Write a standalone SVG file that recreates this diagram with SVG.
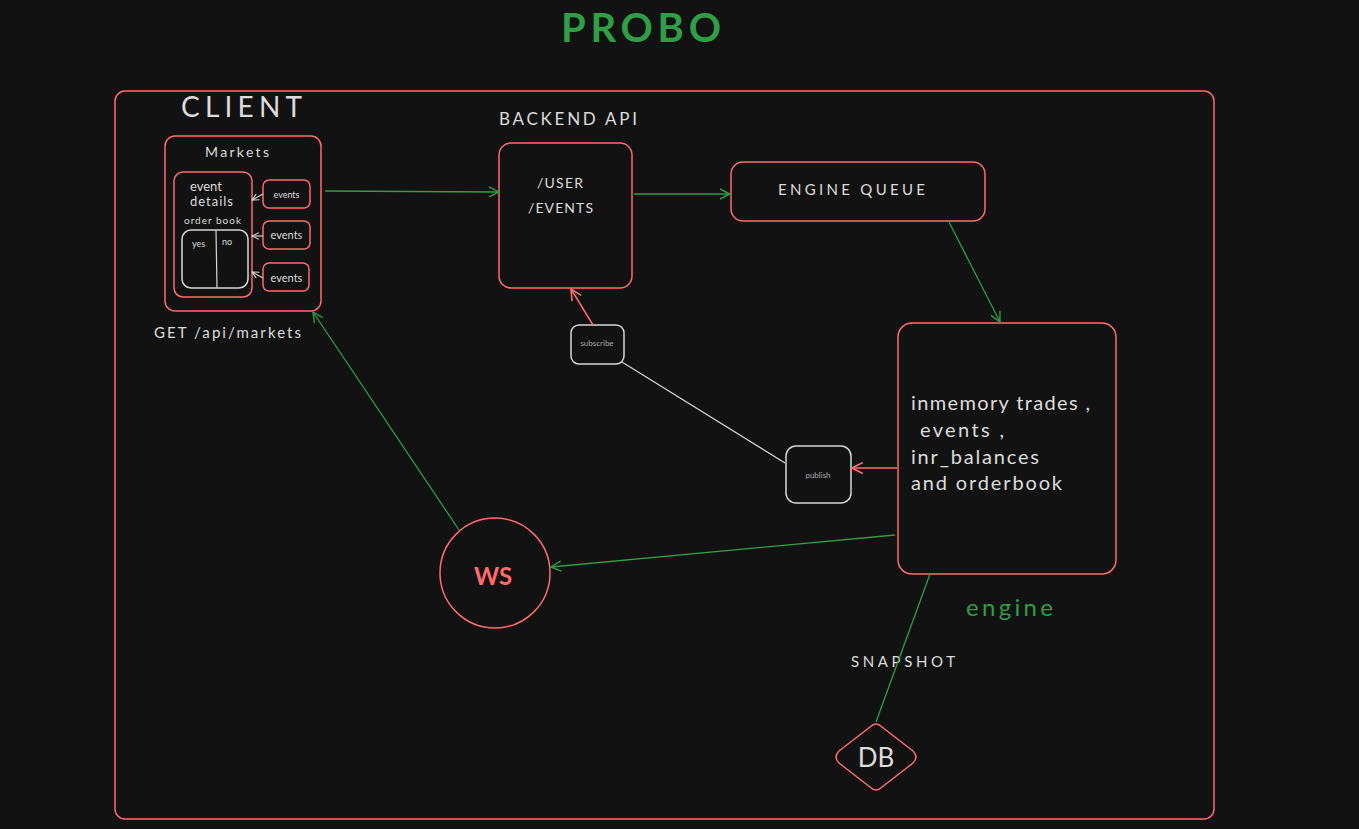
<svg xmlns="http://www.w3.org/2000/svg" width="1359" height="829" viewBox="0 0 1359 829">
<defs>
<style>
.bg{fill:#121212}
.box{fill:none;stroke:#ff6b6b;stroke-width:1.5}
.wbox{fill:none;stroke:#d6d6d6;stroke-width:1.5}
.t{font-family:Lato,"Liberation Sans",sans-serif;fill:#dcdcdc}
.g{stroke:#2f9e44;stroke-width:1.3;fill:none}
.r{stroke:#ff6b6b;stroke-width:1.5;fill:none}
.w{stroke:#d6d6d6;stroke-width:1.2;fill:none}
</style>
<marker id="ag" viewBox="0 0 12 12" refX="11" refY="6" markerWidth="12" markerHeight="12" markerUnits="userSpaceOnUse" orient="auto"><path d="M1,1 L11,6 L1,11" fill="none" stroke="#2f9e44" stroke-width="1.4"/></marker>
<marker id="ar" viewBox="0 0 12 12" refX="11" refY="6" markerWidth="13" markerHeight="13" markerUnits="userSpaceOnUse" orient="auto"><path d="M1,1 L11,6 L1,11" fill="none" stroke="#ff6b6b" stroke-width="1.5"/></marker>
<marker id="aw" viewBox="0 0 12 12" refX="11" refY="6" markerWidth="8" markerHeight="8" markerUnits="userSpaceOnUse" orient="auto"><path d="M1,1 L11,6 L1,11" fill="none" stroke="#d6d6d6" stroke-width="1.6"/></marker>
</defs>
<rect class="bg" x="0" y="0" width="1359" height="829"/>
<text class="t" x="561" y="42" font-size="40" font-weight="bold" style="fill:#2f9e44" textLength="160" lengthAdjust="spacing">PROBO</text>

<g id="frame"><rect class="box" x="115" y="91" width="1099" height="728" rx="10"/></g>

<g id="client">
<text class="t" x="181" y="117" font-size="28" textLength="121" lengthAdjust="spacing">CLIENT</text>
<rect class="box" x="165" y="136" width="156" height="175" rx="10"/>
<text class="t" x="205" y="157" font-size="14" textLength="64" lengthAdjust="spacing">Markets</text>
<rect class="box" x="174" y="172" width="78" height="125" rx="9"/>
<text class="t" x="190" y="191" font-size="13">event</text>
<text class="t" x="190" y="206" font-size="13" textLength="43" lengthAdjust="spacing">details</text>
<text class="t" x="184" y="224" font-size="10" textLength="57" lengthAdjust="spacing">order book</text>
<rect class="wbox" x="182" y="230" width="66" height="58" rx="9"/>
<line class="w" x1="216" y1="230" x2="217" y2="288"/>
<text class="t" x="192" y="247" font-size="9">yes</text>
<text class="t" x="222" y="245" font-size="9">no</text>
</g>
<g id="events1"><rect class="box" x="263" y="180" width="47" height="28" rx="6"/><text class="t" x="286.5" y="198" text-anchor="middle" font-size="9">events</text></g>
<g id="events2"><rect class="box" x="263" y="221" width="47" height="28" rx="6"/><text class="t" x="286.5" y="239" text-anchor="middle" font-size="11">events</text></g>
<g id="events3"><rect class="box" x="263" y="263" width="46" height="28" rx="6"/><text class="t" x="286.5" y="282" text-anchor="middle" font-size="11">events</text></g>
<text class="t" x="154" y="338" font-size="15" textLength="147" lengthAdjust="spacing">GET /api/markets</text>

<g id="backend">
<text class="t" x="499" y="125" font-size="17" textLength="138" lengthAdjust="spacing">BACKEND API</text>
<rect class="box" x="499" y="143" width="133" height="145" rx="12"/>
<text class="t" x="537" y="188" font-size="14" textLength="46" lengthAdjust="spacing">/USER</text>
<text class="t" x="528" y="213" font-size="14" textLength="65" lengthAdjust="spacing">/EVENTS</text>
</g>
<g id="queue"><rect class="box" x="731" y="162" width="254" height="59" rx="12"/><text class="t" x="778" y="195" font-size="15" textLength="147" lengthAdjust="spacing">ENGINE QUEUE</text></g>
<g id="engine">
<rect class="box" x="898" y="323" width="218" height="251" rx="14"/>
<text class="t" x="911" y="410" font-size="20" textLength="179" lengthAdjust="spacing">inmemory trades ,</text>
<text class="t" x="920" y="437" font-size="20" textLength="84" lengthAdjust="spacing">events ,</text>
<text class="t" x="911" y="464" font-size="20" textLength="128" lengthAdjust="spacing">inr_balances</text>
<text class="t" x="911" y="490" font-size="20" textLength="151" lengthAdjust="spacing">and orderbook</text>
<text class="t" x="966" y="616" font-size="24" style="fill:#2f9e44" textLength="87" lengthAdjust="spacing">engine</text>
</g>
<g id="publish"><rect class="wbox" x="786" y="446" width="65" height="57" rx="10"/><text class="t" x="818" y="478" text-anchor="middle" font-size="8" style="fill:#aaa">publish</text></g>
<g id="subscribe"><rect class="wbox" x="571" y="325" width="53" height="39" rx="8"/><text class="t" x="597" y="346" text-anchor="middle" font-size="8" style="fill:#aaa">subscribe</text></g>
<g id="ws"><circle class="box" cx="495" cy="573" r="55"/><text class="t" x="493" y="585" text-anchor="middle" font-size="24" font-weight="bold" style="fill:#ff6b6b">WS</text></g>
<g id="db">
<path class="box" d="M870,727 Q876,721 882,727 L913,751 Q919,757 913,763 L882,787 Q876,793 870,787 L839,763 Q833,757 839,751 Z"/>
<text class="t" x="876" y="767" text-anchor="middle" font-size="26">DB</text>
</g>
<text class="t" x="851" y="667" font-size="15" textLength="104" lengthAdjust="spacing">SNAPSHOT</text>

<g id="connectors">
<line class="w" x1="263" y1="194" x2="252" y2="200" marker-end="url(#aw)"/>
<line class="w" x1="263" y1="236" x2="252" y2="236" marker-end="url(#aw)"/>
<line class="w" x1="263" y1="278" x2="252" y2="272" marker-end="url(#aw)"/>
<line class="g" x1="325" y1="191" x2="499" y2="192" marker-end="url(#ag)"/>
<line class="g" x1="634" y1="194" x2="730" y2="194" marker-end="url(#ag)"/>
<line class="g" x1="949" y1="222" x2="1000" y2="322" marker-end="url(#ag)"/>
<line class="r" x1="897" y1="468" x2="852" y2="468" marker-end="url(#ar)"/>
<line class="w" x1="785" y1="463" x2="622" y2="362"/>
<line class="r" x1="593" y1="325" x2="571" y2="289" marker-end="url(#ar)"/>
<line class="g" x1="895" y1="535" x2="551" y2="567" marker-end="url(#ag)"/>
<line class="g" x1="459" y1="530" x2="313" y2="312" marker-end="url(#ag)"/>
<line class="g" x1="930" y1="574" x2="876" y2="722"/>
</g>
</svg>
